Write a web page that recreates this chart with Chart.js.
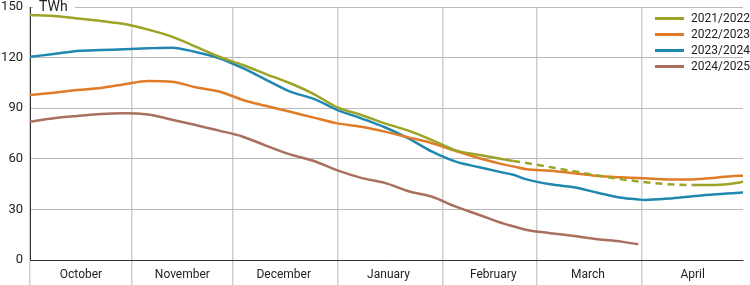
<!DOCTYPE html>
<html>
<head>
<meta charset="utf-8">
<script src="https://cdn.jsdelivr.net/npm/chart.js@4"></script>
<style>
  body { margin: 0; background: #fff; font-family: Roboto, sans-serif; }
  #wrap { position: relative; width: 750px; height: 285px; }
  .legend { position: absolute; left: 655px; top: 10px; font-size: 12px; color: #222; }
  .legend-item { height: 16px; display: flex; align-items: center; }
  .legend-item span.swatch { display: inline-block; width: 29px; height: 3px; margin-right: 7px; }
</style>
</head>
<body>
<div id="wrap">
  <canvas id="storageChart"></canvas>
  <div class="legend" id="legend"></div>
</div>
<script>
// day 0 = 1 October
const days = [1, 8, 15, 22, 29, 36, 43, 50, 57, 64, 71, 78, 85, 92, 99, 106, 113, 120, 127, 134, 141, 144, 148, 155, 162, 169, 176, 181, 183, 190, 197, 204, 211, 212];

const season2122 = [145.3, 144.7, 143.2, 141.7, 139.9, 136.6, 132.4, 126.5, 120.5, 115.6, 110.1, 104.8, 98.4, 90.5, 86.0, 81.0, 76.7, 71.1, 65.0, 62.3, 59.7, 58.7, null, null, null, null, null, null, null, null, 44.5, 44.5, 45.9, 46.5];
const season2223 = [97.8, 99.2, 100.8, 102.0, 104.2, 106.1, 105.7, 102.4, 99.9, 94.9, 91.3, 87.9, 84.4, 81.0, 79.0, 76.1, 72.7, 69.2, 64.6, 60.3, 56.7, 55.5, 53.8, 52.9, 51.4, 49.8, 49.0, 48.6, 48.4, 47.8, 47.8, 48.8, 50.0, 50.0];
const season2324 = [120.5, 122.1, 123.9, 124.5, 124.9, 125.5, 125.9, 123.3, 119.6, 113.7, 106.7, 99.8, 95.5, 88.9, 84.0, 78.7, 72.1, 64.2, 58.3, 55.0, 51.8, 50.5, 47.8, 44.9, 43.1, 39.9, 36.9, 35.9, 35.6, 36.4, 37.8, 39.0, 39.9, 40.0];
const season2425 = [82.0, 84.0, 85.4, 86.6, 87.0, 86.2, 83.2, 80.0, 76.7, 73.1, 67.7, 62.6, 58.7, 53.1, 48.7, 45.7, 40.8, 37.5, 31.6, 26.7, 21.7, 20.0, 17.8, 15.9, 14.2, 12.3, 10.9, 9.3, null, null, null, null, null, null];

const seasonLabels = ['2021/2022', '2022/2023', '2023/2024', '2024/2025'];
const seasonColors = ['#9da326', '#e07b28', '#1f87b0', '#a96f5f'];

const monthStarts = [1, 31, 61, 92, 123, 151, 182];
const monthNames = ['October', 'November', 'December', 'January', 'February', 'March', 'April'];
const yTicks = [0, 30, 60, 90, 120, 150];

const toPoints = (values) => days.map((d, i) => ({ x: d, y: values[i] }));

const unitLabel = {
  id: 'unitLabel',
  beforeDatasetsDraw(chart) {
    const ctx = chart.ctx;
    const area = chart.chartArea;
    ctx.save();
    ctx.fillStyle = '#fff';
    ctx.fillRect(area.left + 3, 0, 42, area.top + 5);
    ctx.fillStyle = '#222';
    ctx.font = '14px Roboto';
    ctx.textBaseline = 'middle';
    ctx.fillText('TWh', area.left + 9, area.top);
    ctx.restore();
  }
};

const dashGap = (ctx) => (ctx.p0.skip || ctx.p1.skip) ? [7, 5] : undefined;

const ctx = document.getElementById('storageChart').getContext('2d');
const chart = new Chart(ctx, {
  type: 'line',
  data: {
    datasets: [season2122, season2223, season2324, season2425].map((values, i) => ({
      label: seasonLabels[i],
      data: toPoints(values),
      borderColor: seasonColors[i],
      backgroundColor: seasonColors[i],
      borderWidth: 2.5,
      pointRadius: 0,
      cubicInterpolationMode: 'monotone',
      spanGaps: i === 0,
      segment: i === 0 ? { borderDash: dashGap } : undefined
    }))
  },
  options: {
    responsive: true,
    maintainAspectRatio: false,
    animation: false,
    layout: { padding: { top: 0, right: 7, left: 0, bottom: 0 } },
    plugins: {
      legend: { display: false },
      tooltip: { enabled: false }
    },
    scales: {
      x: {
        type: 'linear',
        min: 1,
        max: 212,
        afterBuildTicks: (scale) => { scale.ticks = monthStarts.map(v => ({ value: v })); },
        afterFit: (scale) => { scale.height = 25; },
        ticks: {
          callback: (value, index) => monthNames[index] || '',
          autoSkip: false,
          maxRotation: 0,
          labelOffset: 51,
          padding: -17,
          color: '#222',
          font: { family: 'Roboto', size: 12 }
        },
        grid: { color: '#cfcfcf', lineWidth: 1.5, tickLength: 25 },
        border: { color: '#333', width: 1 }
      },
      y: {
        min: 0,
        max: 150,
        afterBuildTicks: (scale) => { scale.ticks = yTicks.map(v => ({ value: v })); },
        afterFit: (scale) => { scale.width = 30; scale.paddingTop = 7; },
        ticks: {
          padding: 7,
          color: '#222',
          font: { family: 'Roboto', size: 13, lineHeight: 1.1 }
        },
        grid: { color: '#b9b9b9', drawTicks: false },
        border: { color: '#333', width: 1 }
      }
    }
  },
  plugins: [unitLabel]
});

const legend = document.getElementById('legend');
legend.innerHTML = seasonLabels.map((label, i) =>
  `<div class="legend-item"><span class="swatch" style="background:${seasonColors[i]}"></span>${label}</div>`
).join('');
</script>
</body>
</html>
